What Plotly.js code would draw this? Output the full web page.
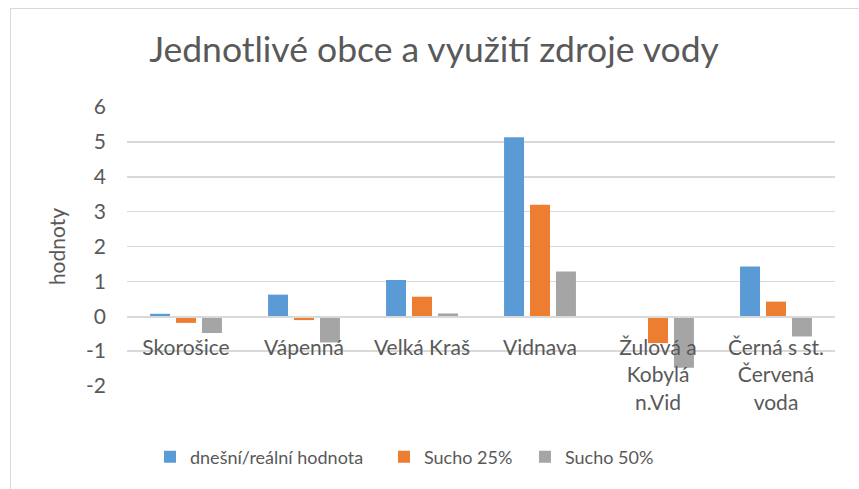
<!DOCTYPE html>
<html>
<head>
<meta charset="utf-8">
<script src="https://cdn.plot.ly/plotly-3.0.1.min.js"></script>
<style>
html,body{margin:0;padding:0;background:#fff;overflow:hidden;}
#frame{position:absolute;left:10px;top:8px;width:900px;height:520px;border-left:1.5px solid #d9d9d9;border-top:1.5px solid #d9d9d9;}
#chart{position:absolute;left:0;top:0;width:859px;height:489px;}
</style>
</head>
<body>
<div id="frame"></div>
<div id="chart"></div>
<script>
const categories = ["Skorošice", "Vápenná", "Velká Kraš", "Vidnava", "Žulová a<br>Kobylá<br>n.Vid", "Černá s st.<br>Červená<br>voda"];
const seriesNames = ["dnešní/reální hodnota", "Sucho 25%", "Sucho 50%"];
const realValues = [0.07, 0.62, 1.04, 5.13, -0.05, 1.43];
const drought25 = [-0.19, -0.11, 0.56, 3.20, -0.77, 0.42];
const drought50 = [-0.48, -0.75, 0.08, 1.28, -1.48, -0.58];
const colors = ["#5b9bd5", "#ed7d31", "#a5a5a5"];
const yTicks = [-2, -1, 0, 1, 2, 3, 4, 5, 6];
const yTickLabels = ["-2", "-1", "0", "1", "2", "3", "4", "5", "6"];

const font = "Lato, 'Open Sans', sans-serif";
const txt = "#595959";
const allValues = [realValues, drought25, drought50];
const legendIds = ["legend", "legend2", "legend3"];
const traces = allValues.map((v, i) => ({
  type: "bar", x: categories, y: v, name: seriesNames[i], legend: legendIds[i],
  marker: {color: colors[i]}, hoverinfo: "none"
}));

function leg(px) {
  return {orientation: "h", x: px/859, xref: "container", xanchor: "left", y: 1 - 457/489, yref: "container", yanchor: "middle",
          font: {size: 18, color: txt}, itemwidth: 30, bgcolor: "rgba(0,0,0,0)"};
}

const layout = {
  width: 859, height: 489,
  paper_bgcolor: "rgba(0,0,0,0)", plot_bgcolor: "rgba(0,0,0,0)",
  margin: {l: 127, r: 24, t: 107, b: 103},
  font: {family: font, color: txt, size: 19},
  title: {text: "Jednotlivé obce a využití zdroje vody", font: {family: font, size: 35.5, color: txt},
          x: 434/859, xref: "container", xanchor: "center", y: 1 - 50/489, yref: "container", yanchor: "middle"},
  barmode: "group", bargap: 0.34, bargroupgap: 0.23,
  xaxis: {anchor: "free", position: 0.25, showline: true, linecolor: "#d9d9d9", linewidth: 1.5,
          showgrid: false, ticks: "", tickfont: {size: 21, color: txt}, ticklabelstandoff: 12,
          tickangle: 0, fixedrange: true},
  yaxis: {range: [-2, 6], tickvals: yTicks, ticktext: yTickLabels, showgrid: true, gridcolor: "#d9d9d9", gridwidth: 1.5,
          zeroline: true, zerolinecolor: "#d9d9d9", zerolinewidth: 1.5, showline: false,
          ticks: "", ticklabelstandoff: 20, tickfont: {size: 21, color: txt},
          title: {text: "hodnoty", font: {size: 21, color: txt}, standoff: 14}, fixedrange: true},
  legend: leg(150),
  legend2: leg(384),
  legend3: leg(525),
  showlegend: true
};
Plotly.newPlot("chart", traces, layout, {displayModeBar: false, staticPlot: true});
</script>
</body>
</html>
